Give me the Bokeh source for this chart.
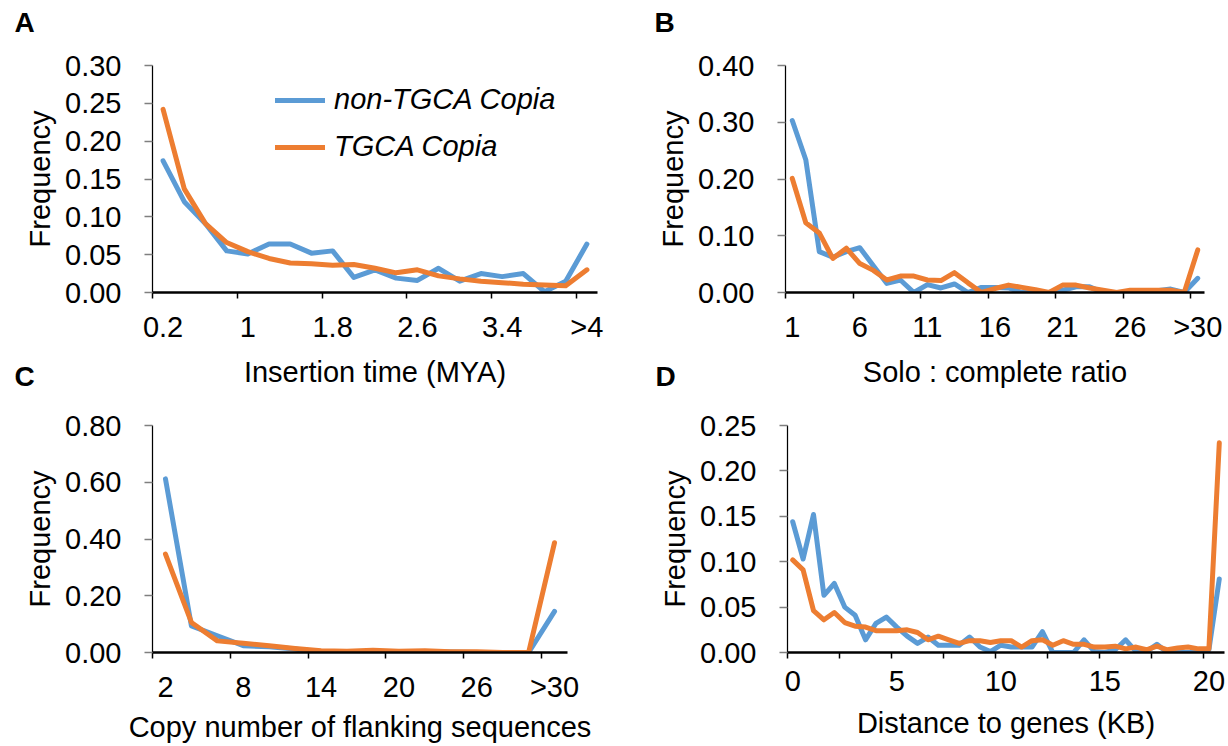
from bokeh.plotting import figure
from bokeh.layouts import column, row
from bokeh.models import (FixedTicker, Range1d, Legend, LegendItem, NumeralTickFormatter,
                          ColumnDataSource)
from bokeh.core.properties import value
from bokeh.embed import file_html
from bokeh.resources import INLINE

BLUE = "#5B9BD5"
ORANGE = "#ED7D31"
FONT = "Liberation Sans"
FS = "29px"

# ---------------- data ----------------
a_categories = ["0.2", "0.4", "0.6", "0.8", "1.0", "1.2", "1.4", "1.6", "1.8", "2.0", "2.2",
                "2.4", "2.6", "2.8", "3.0", "3.2", "3.4", "3.6", "3.8", "4.0", ">4"]
a_tick_labels = ["0.2", "1.0", "1.8", "2.6", "3.4", ">4"]
a_tick_text = ["0.2", "1", "1.8", "2.6", "3.4", ">4"]
a_non_tgca = [0.174, 0.120, 0.091, 0.055, 0.051, 0.064, 0.064, 0.052, 0.055, 0.020, 0.030,
              0.019, 0.016, 0.032, 0.015, 0.025, 0.021, 0.025, 0.001, 0.015, 0.064]
a_tgca = [0.242, 0.137, 0.091, 0.066, 0.054, 0.045, 0.039, 0.038, 0.036, 0.037, 0.032,
          0.026, 0.030, 0.022, 0.018, 0.015, 0.013, 0.011, 0.010, 0.009, 0.030]

b_categories = ["1", "2", "3", "4", "5", "6", "7", "8", "9", "10", "11", "12", "13", "14", "15",
                "16", "17", "18", "19", "20", "21", "22", "23", "24", "25", "26", "27", "28",
                "29", "30", ">30"]
b_tick_labels = ["1", "6", "11", "16", "21", "26", ">30"]
b_non_tgca = [0.303, 0.234, 0.072, 0.062, 0.072, 0.079, 0.047, 0.016, 0.022, 0.000, 0.014,
              0.008, 0.015, 0.000, 0.009, 0.009, 0.008, 0.000, 0.000, 0.000, 0.004, 0.010,
              0.010, 0.000, 0.000, 0.000, 0.003, 0.003, 0.006, 0.000, 0.025]
b_tgca = [0.201, 0.123, 0.105, 0.060, 0.078, 0.051, 0.039, 0.022, 0.029, 0.029, 0.022,
          0.021, 0.035, 0.017, 0.000, 0.007, 0.013, 0.009, 0.005, 0.000, 0.013, 0.013,
          0.008, 0.004, 0.000, 0.004, 0.004, 0.004, 0.004, 0.000, 0.075]

c_categories = ["2", "4", "6", "8", "10", "12", "14", "16", "18", "20", "22", "24", "26", "28",
                "30", ">30"]
c_tick_labels = ["2", "8", "14", "20", "26", ">30"]
c_non_tgca = [0.612, 0.094, 0.059, 0.024, 0.020, 0.012, 0.000, 0.000, 0.004, 0.001, 0.003,
              0.002, 0.000, 0.000, 0.000, 0.145]
c_tgca = [0.347, 0.106, 0.041, 0.033, 0.024, 0.014, 0.006, 0.004, 0.008, 0.004, 0.006,
          0.003, 0.003, 0.000, 0.000, 0.387]

d_categories = ["0", "0.5", "1", "1.5", "2", "2.5", "3", "3.5", "4", "4.5", "5", "5.5", "6",
                "6.5", "7", "7.5", "8", "8.5", "9", "9.5", "10", "10.5", "11", "11.5", "12",
                "12.5", "13", "13.5", "14", "14.5", "15", "15.5", "16", "16.5", "17", "17.5",
                "18", "18.5", "19", "19.5", "20", ">20"]
d_tick_labels = ["0", "5", "10", "15", "20"]
d_non_tgca = [0.144, 0.103, 0.152, 0.063, 0.076, 0.050, 0.041, 0.014, 0.032, 0.039, 0.028,
              0.018, 0.010, 0.017, 0.008, 0.008, 0.008, 0.017, 0.006, 0.001, 0.008, 0.006,
              0.006, 0.006, 0.023, 0.000, 0.000, 0.000, 0.014, 0.001, 0.000, 0.003, 0.014,
              0.001, 0.001, 0.009, 0.000, 0.000, 0.000, 0.000, 0.003, 0.081]
d_tgca = [0.102, 0.091, 0.046, 0.036, 0.044, 0.033, 0.029, 0.028, 0.024, 0.024, 0.024,
          0.025, 0.022, 0.014, 0.018, 0.014, 0.010, 0.013, 0.013, 0.011, 0.013, 0.013,
          0.006, 0.013, 0.014, 0.008, 0.013, 0.009, 0.009, 0.006, 0.006, 0.007, 0.004,
          0.006, 0.003, 0.007, 0.003, 0.005, 0.006, 0.004, 0.004, 0.231]

panel_letters = ["A", "B", "C", "D"]


def make_panel(cats, blue, orange, ymax, ystep, tick_labels, tick_text, tick_every,
               xtitle, width, height, bl, br, bt, bb, xtitle_standoff):
    n = len(cats)
    p = figure(width=width, height=height, output_backend="svg", toolbar_location=None,
               x_range=Range1d(0, n), y_range=Range1d(0, ymax),
               min_border_left=bl, min_border_right=br, min_border_top=bt, min_border_bottom=bb)
    p.outline_line_color = None
    p.grid.visible = False
    p.background_fill_alpha = 0
    p.border_fill_alpha = 0

    xs = [i + 0.5 for i in range(n)]
    rb = p.line(xs, blue, line_color=BLUE, line_width=5, line_join="round", line_cap="round")
    ro = p.line(xs, orange, line_color=ORANGE, line_width=5, line_join="round", line_cap="round")

    centers = [cats.index(t) + 0.5 for t in tick_labels]
    bounds = [b for b in range(0, n, tick_every)]
    p.xaxis.ticker = FixedTicker(ticks=centers, minor_ticks=bounds)
    p.xaxis.major_label_overrides = {c: t for c, t in zip(centers, tick_text)}
    p.xaxis.major_tick_line_color = None
    p.xaxis.major_tick_out = 0
    p.xaxis.major_tick_in = 0
    p.xaxis.minor_tick_line_color = "black"
    p.xaxis.minor_tick_line_width = 1.5
    p.xaxis.minor_tick_out = 6
    p.xaxis.minor_tick_in = 0
    p.xaxis.axis_line_width = 2.5
    p.xaxis.axis_line_color = "black"
    p.xaxis.major_label_text_font = FONT
    p.xaxis.major_label_text_font_size = FS
    p.xaxis.major_label_text_color = "black"
    p.xaxis.major_label_standoff = 12
    p.xaxis.axis_label = xtitle
    p.xaxis.axis_label_text_font = FONT
    p.xaxis.axis_label_text_font_size = FS
    p.xaxis.axis_label_text_font_style = "normal"
    p.xaxis.axis_label_text_color = "black"
    p.xaxis.axis_label_standoff = xtitle_standoff

    nt = int(round(ymax / ystep))
    yt = [round(k * ystep, 4) for k in range(nt + 1)]
    p.yaxis.ticker = FixedTicker(ticks=yt, minor_ticks=[])
    p.yaxis.formatter = NumeralTickFormatter(format="0.00")
    p.yaxis.axis_line_width = 1.25
    p.yaxis.axis_line_color = "black"
    p.yaxis.major_tick_line_color = "#7F7F7F"
    p.yaxis.major_tick_line_width = 1.5
    p.yaxis.major_tick_out = 8
    p.yaxis.major_tick_in = 0
    p.yaxis.minor_tick_line_color = None
    p.yaxis.major_label_text_font = FONT
    p.yaxis.major_label_text_font_size = FS
    p.yaxis.major_label_text_color = "black"
    p.yaxis.major_label_standoff = 23
    p.yaxis.axis_label = "Frequency"
    p.yaxis.axis_label_text_font = FONT
    p.yaxis.axis_label_text_font_size = FS
    p.yaxis.axis_label_text_font_style = "normal"
    p.yaxis.axis_label_text_color = "black"
    p.yaxis.axis_label_standoff = 6
    return p, rb, ro


pa, rba, roa = make_panel(a_categories, a_non_tgca, a_tgca, 0.30, 0.05,
                          a_tick_labels, a_tick_text, 4, "Insertion time (MYA)",
                          620, 390, 152, 23, 65, 98, 10)
pb, _, _ = make_panel(b_categories, b_non_tgca, b_tgca, 0.40, 0.10,
                      b_tick_labels, b_tick_labels, 5, "Solo : complete ratio",
                      608, 390, 165, 24, 65, 98, 10)
pc, _, _ = make_panel(c_categories, c_non_tgca, c_tgca, 0.80, 0.20,
                      c_tick_labels, c_tick_labels, 3, "Copy number of flanking sequences",
                      620, 356, 152, 53, 35, 94, 5)
pd, _, _ = make_panel(d_categories, d_non_tgca, d_tgca, 0.25, 0.05,
                      d_tick_labels, d_tick_labels, 5, "Distance to genes (KB)",
                      608, 356, 167, 4, 35, 94, 13)

legend = Legend(items=[LegendItem(label="non-TGCA Copia", renderers=[rba]),
                       LegendItem(label="TGCA Copia", renderers=[roa])],
                location=(123, 129), padding=0, margin=0, spacing=14,
                glyph_width=50, glyph_height=30, label_height=30, label_standoff=9,
                label_text_font=FONT, label_text_font_size=FS, label_text_font_style="italic",
                label_text_color="black",
                border_line_color=None, background_fill_alpha=0)
pa.add_layout(legend)

# transparent overlay, absolutely positioned over the page, carrying the panel letters
ov = figure(width=1228, height=746, output_backend="svg", toolbar_location=None,
            x_range=Range1d(0, 1228), y_range=Range1d(746, 0),
            min_border=0, x_axis_type=None, y_axis_type=None,
            styles={"position": "absolute", "left": "0px", "top": "0px", "z-index": "10",
                    "pointer-events": "none"})
ov.outline_line_color = None
ov.grid.visible = False
ov.background_fill_alpha = 0
ov.border_fill_alpha = 0
letter_src = ColumnDataSource(dict(x=[14, 654, 14, 655], y=[22, 22, 376, 376], t=panel_letters))
ov.text(x="x", y="y", text="t", source=letter_src, text_font=value(FONT),
        text_font_size="28px", text_font_style="bold", text_color="black",
        text_baseline="alphabetic", text_align="left")

layout = column(row(pa, pb), row(pc, pd), ov)
open("out.html", "w").write(file_html(layout, INLINE))
